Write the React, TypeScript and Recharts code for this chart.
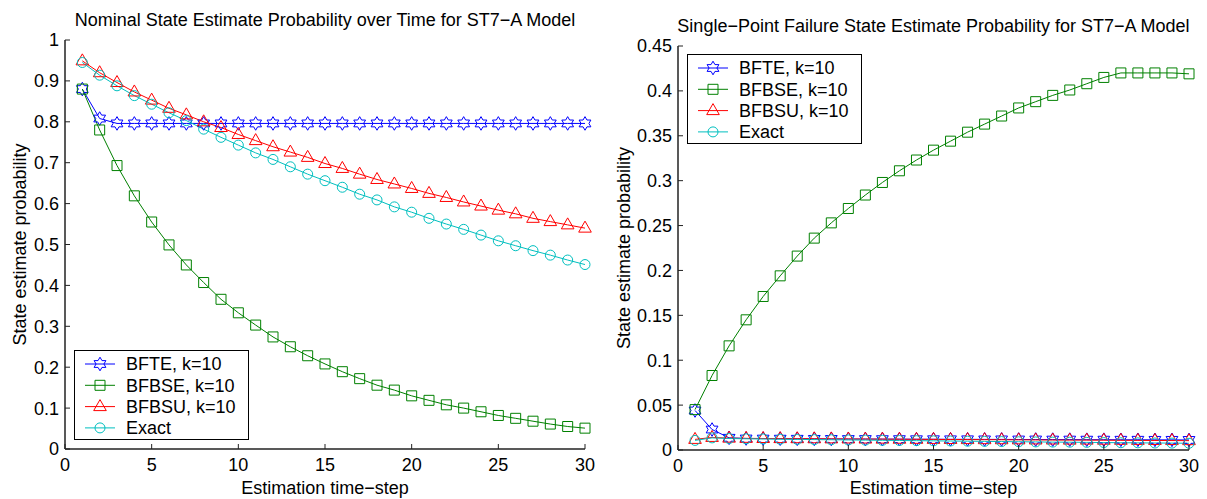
import React from 'react';
import { LineChart, Line, XAxis, YAxis } from 'recharts';

// estimation time-steps
const STEPS = [1, 2, 3, 4, 5, 6, 7, 8, 9, 10, 11, 12, 13, 14, 15, 16, 17, 18, 19, 20, 21, 22, 23, 24, 25, 26, 27, 28, 29, 30];

// nominal state (left panel)
const NOM_BFTE = [0.88, 0.808, 0.796, 0.796, 0.796, 0.796, 0.796, 0.796, 0.796, 0.796, 0.796, 0.796, 0.796, 0.796, 0.796, 0.796, 0.796, 0.796, 0.796, 0.796, 0.796, 0.796, 0.796, 0.796, 0.796, 0.796, 0.796, 0.796, 0.796, 0.796];
const NOM_BFBSE = [0.88, 0.78, 0.693, 0.619, 0.555, 0.499, 0.45, 0.407, 0.366, 0.333, 0.303, 0.274, 0.25, 0.228, 0.208, 0.189, 0.172, 0.156, 0.144, 0.13, 0.119, 0.108, 0.1, 0.091, 0.082, 0.075, 0.068, 0.061, 0.055, 0.051];
const NOM_BFBSU = [0.949, 0.92, 0.896, 0.873, 0.853, 0.833, 0.817, 0.8, 0.786, 0.769, 0.754, 0.739, 0.726, 0.713, 0.698, 0.686, 0.672, 0.659, 0.648, 0.637, 0.625, 0.615, 0.604, 0.594, 0.584, 0.575, 0.564, 0.556, 0.548, 0.54];
const NOM_EXACT = [0.945, 0.914, 0.888, 0.864, 0.843, 0.822, 0.803, 0.782, 0.762, 0.743, 0.724, 0.708, 0.69, 0.672, 0.656, 0.64, 0.623, 0.609, 0.592, 0.579, 0.564, 0.55, 0.537, 0.523, 0.509, 0.497, 0.485, 0.474, 0.462, 0.451];

// single-point failure state (right panel)
const SPF_BFTE = [0.044, 0.0228, 0.0136, 0.0128, 0.0127, 0.0126, 0.0125, 0.0124, 0.0123, 0.0122, 0.0122, 0.0121, 0.0121, 0.012, 0.012, 0.0119, 0.0119, 0.0118, 0.0118, 0.0117, 0.0117, 0.0116, 0.0116, 0.0115, 0.0115, 0.0114, 0.0114, 0.0113, 0.0113, 0.0112];
const SPF_BFBSE = [0.045, 0.083, 0.116, 0.145, 0.171, 0.194, 0.216, 0.236, 0.253, 0.269, 0.284, 0.298, 0.311, 0.323, 0.334, 0.344, 0.354, 0.363, 0.372, 0.381, 0.388, 0.395, 0.401, 0.408, 0.415, 0.42, 0.42, 0.42, 0.42, 0.419];
const SPF_BFBSU = [0.0118, 0.014, 0.0132, 0.013, 0.0128, 0.0127, 0.0126, 0.0125, 0.0124, 0.0123, 0.0122, 0.0121, 0.012, 0.0119, 0.0118, 0.0117, 0.0116, 0.0115, 0.0114, 0.0113, 0.0112, 0.0111, 0.011, 0.011, 0.0109, 0.0108, 0.0107, 0.0106, 0.0105, 0.0104];
const SPF_EXACT = [0.0107, 0.0135, 0.0128, 0.0125, 0.0123, 0.012, 0.0118, 0.0116, 0.0114, 0.0112, 0.011, 0.0108, 0.0106, 0.0104, 0.0102, 0.01, 0.0098, 0.0096, 0.0094, 0.0092, 0.009, 0.0088, 0.0087, 0.0085, 0.0083, 0.0081, 0.008, 0.0078, 0.0077, 0.0075];

// ticks
const X_TICKS = [0, 5, 10, 15, 20, 25, 30];
const X_LABELS = ['0', '5', '10', '15', '20', '25', '30'];
const NOM_Y_TICKS = [0, 0.1, 0.2, 0.3, 0.4, 0.5, 0.6, 0.7, 0.8, 0.9, 1];
const NOM_Y_LABELS = ['0', '0.1', '0.2', '0.3', '0.4', '0.5', '0.6', '0.7', '0.8', '0.9', '1'];
const SPF_Y_TICKS = [0, 0.05, 0.1, 0.15, 0.2, 0.25, 0.3, 0.35, 0.4, 0.45];
const SPF_Y_LABELS = ['0', '0.05', '0.1', '0.15', '0.2', '0.25', '0.3', '0.35', '0.4', '0.45'];

const SERIES_NAMES = ['BFTE, k=10', 'BFBSE, k=10', 'BFBSU, k=10', 'Exact'];

const FONT = '"Liberation Sans", Arial, Helvetica, sans-serif';
const AXIS = '#222';

const STYLE = [
  { key: 'bfte', color: '#0000ff', shape: 'hexagram' },
  { key: 'bfbse', color: '#008000', shape: 'square' },
  { key: 'bfbsu', color: '#ff0000', shape: 'triangle' },
  { key: 'exact', color: '#00bfbf', shape: 'circle' },
];

const nomData = STEPS.map((t, i) => ({ t, bfte: NOM_BFTE[i], bfbse: NOM_BFBSE[i], bfbsu: NOM_BFBSU[i], exact: NOM_EXACT[i] }));
const spfData = STEPS.map((t, i) => ({ t, bfte: SPF_BFTE[i], bfbse: SPF_BFBSE[i], bfbsu: SPF_BFBSU[i], exact: SPF_EXACT[i] }));

function markerPath(shape: string, cx: number, cy: number) {
  if (shape === 'square') return `M${cx - 5},${cy - 5}h10v10h-10Z`;
  if (shape === 'triangle') return `M${cx},${cy - 7}L${cx + 6.3},${cy + 4}L${cx - 6.3},${cy + 4}Z`;
  if (shape === 'circle') return `M${cx - 5},${cy}a5,5 0 1,0 10,0a5,5 0 1,0 -10,0Z`;
  // hexagram (star of David outline)
  const R = 6.8, r = R / Math.sqrt(3);
  let d = '';
  for (let k = 0; k < 12; k++) {
    const a = ((-90 + k * 30) * Math.PI) / 180;
    const rad = k % 2 === 0 ? R : r;
    d += (k === 0 ? 'M' : 'L') + (cx + rad * Math.cos(a)).toFixed(2) + ',' + (cy + rad * Math.sin(a)).toFixed(2);
  }
  return d + 'Z';
}

const Marker = ({ shape, cx, cy, color }: any) => (
  <path d={markerPath(shape, cx, cy)} fill="none" stroke={color} strokeWidth={1} />
);

function Panel({ left, width, data, plotLeft, plotRight, plotTop, plotBottom, yMax, yTicks, yLabels, title, ylabelX, legendX, legendY }: any) {
  const H = 499;
  const cx = (plotLeft + plotRight) / 2;
  const txt = { fontFamily: FONT, fontSize: 18, fill: '#000' };

  const bottomTick = (p: any) => (
    <g>
      <line x1={p.x} y1={p.y} x2={p.x} y2={p.y - 5} stroke={AXIS} />
      <text x={p.x} y={p.y + 22} textAnchor="middle" {...txt}>{X_LABELS[X_TICKS.indexOf(p.payload.value)]}</text>
    </g>
  );
  const topTick = (p: any) => <line x1={p.x} y1={p.y} x2={p.x} y2={p.y + 5} stroke={AXIS} />;
  const leftTick = (p: any) => (
    <g>
      <line x1={p.x} y1={p.y} x2={p.x + 5} y2={p.y} stroke={AXIS} />
      <text x={p.x - 6} y={p.y + 6.4} textAnchor="end" {...txt}>{yLabels[yTicks.indexOf(p.payload.value)]}</text>
    </g>
  );
  const rightTick = (p: any) => <line x1={p.x} y1={p.y} x2={p.x - 5} y2={p.y} stroke={AXIS} />;

  return (
    <div style={{ position: 'absolute', left, top: 0, width, height: H }}>
      <LineChart width={width} height={H} data={data}
        margin={{ top: plotTop, right: width - plotRight, bottom: 0, left: 0 }}>
        <XAxis dataKey="t" type="number" domain={[0, 30]} ticks={X_TICKS} interval={0}
          height={H - plotBottom} tickSize={0} tickMargin={0} tickLine={false} tick={bottomTick}
          axisLine={{ stroke: AXIS, strokeWidth: 1.5 }} />
        <XAxis xAxisId="top" orientation="top" dataKey="t" type="number" domain={[0, 30]} ticks={X_TICKS}
          interval={0} height={0} tickSize={0} tickMargin={0} tickLine={false} tick={topTick}
          axisLine={{ stroke: AXIS, strokeWidth: 1.5 }} />
        <YAxis type="number" domain={[0, yMax]} ticks={yTicks} interval={0} width={plotLeft}
          tickSize={0} tickMargin={0} tickLine={false} tick={leftTick}
          axisLine={{ stroke: AXIS, strokeWidth: 1.5 }} />
        <YAxis yAxisId="right" orientation="right" type="number" domain={[0, yMax]} ticks={yTicks}
          interval={0} width={0} tickSize={0} tickMargin={0} tickLine={false} tick={rightTick}
          axisLine={{ stroke: AXIS, strokeWidth: 1.5 }} />
        {STYLE.map((s) => (
          <Line key={s.key} type="linear" dataKey={s.key} stroke={s.color} strokeWidth={1}
            isAnimationActive={false} activeDot={false}
            dot={(p: any) => <Marker key={`${s.key}-${p.index}`} shape={s.shape} cx={p.cx} cy={p.cy} color={s.color} />} />
        ))}
      </LineChart>
      <svg width={width} height={H} style={{ position: 'absolute', left: 0, top: 0, pointerEvents: 'none' }}>
        <text x={cx} y={plotTop - 14} textAnchor="middle" {...txt}>{title}</text>
        <text x={cx} y={494} textAnchor="middle" {...txt}>Estimation time−step</text>
        <text transform={`translate(${ylabelX},${(plotTop + plotBottom) / 2}) rotate(-90)`} textAnchor="middle" {...txt}>
          State estimate probability
        </text>
        <g transform={`translate(${legendX},${legendY})`}>
          <rect x={0.5} y={0.5} width={174} height={89} fill="#fff" stroke="#000" strokeWidth={1} />
          {STYLE.map((s, i) => {
            const y = 14 + i * 21.3;
            return (
              <g key={s.key}>
                <line x1={11} y1={y} x2={41} y2={y} stroke={s.color} strokeWidth={1} />
                <Marker shape={s.shape} cx={26} cy={y} color={s.color} />
                <text x={52} y={y + 6.4} {...txt}>{SERIES_NAMES[i]}</text>
              </g>
            );
          })}
        </g>
      </svg>
    </div>
  );
}

export default function App() {
  return (
    <div style={{ position: 'absolute', left: 0, top: 0, width: 1207, height: 499, background: '#fff' }}>
      <Panel left={0} width={600} data={nomData} plotLeft={65} plotRight={585} plotTop={40} plotBottom={449}
        yMax={1} yTicks={NOM_Y_TICKS} yLabels={NOM_Y_LABELS}
        title="Nominal State Estimate Probability over Time for ST7−A Model"
        ylabelX={26} legendX={74} legendY={350} />
      <Panel left={600} width={607} data={spfData} plotLeft={78} plotRight={589} plotTop={46} plotBottom={450}
        yMax={0.45} yTicks={SPF_Y_TICKS} yLabels={SPF_Y_LABELS}
        title="Single−Point Failure State Estimate Probability for ST7−A Model"
        ylabelX={30} legendX={87} legendY={54} />
    </div>
  );
}
